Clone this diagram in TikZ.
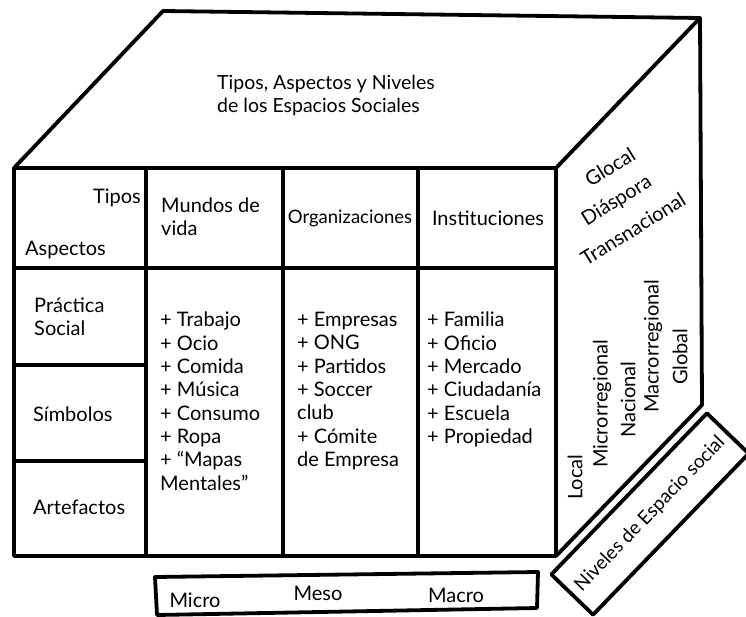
\documentclass[tikz,border=0pt]{standalone}
\usepackage{fontspec}
\setmainfont{Lato}
\begin{document}
\begin{tikzpicture}[x=1pt,y=-1pt,
  edge/.style={line width=3.8pt, line join=round, line cap=round},
  txt/.style={inner sep=0pt, font=\fontsize{20}{23.3}\selectfont},
  lst/.style={txt, align=left, anchor=north west}]
\useasboundingbox[fill=white] (0,0) rectangle (746,617);
% cube outline
\draw[edge] (14,168) -- (163,11) -- (700,18) -- (556,168);
\draw[edge] (700,18) -- (702,405) -- (556,556);
\draw[edge] (14,168) rectangle (556,556);
% front face grid
\draw[edge] (14,268) -- (556,268);
\draw[edge] (146,168) -- (146,556);
\draw[edge] (283,168) -- (283,556);
\draw[edge] (418,168) -- (418,556);
\draw[edge] (14,365) -- (146,365);
\draw[edge] (14,461) -- (146,461);
% top text
\node[txt, font=\fontsize{19.5}{23}\selectfont, align=left, anchor=west] (title) at (217,95) {Tipos, Aspectos y Niveles\\de los Espacios Sociales};
% header
\node[txt, anchor=east] (tipos) at (141,198) {Tipos};
\node[txt, anchor=west] (aspectos) at (25,250) {Aspectos};
\node[txt, align=left, anchor=west] (mundos) at (161,217) {Mundos de\\vida};
\node[txt, font=\fontsize{18.5}{23}\selectfont] (orgs) at (350,218) {Organizaciones};
\node[txt] (inst) at (488,218) {Instituciones};
% aspects
\node[txt, align=left, anchor=west] (practica) at (34,317) {Práctica\\Social};
\node[txt, anchor=west] (simbolos) at (33,414) {Símbolos};
\node[txt, anchor=west] (artefactos) at (33,507) {Artefactos};
% lists
\node[lst] (l1) at (160,312) {+ Trabajo\\+ Ocio\\+ Comida\\+ Música\\+ Consumo\\+ Ropa\\+ “Mapas\\Mentales”};
\node[lst] (l2) at (297,312) {+ Empresas\\+ ONG\\+ Partidos\\+ Soccer\\club\\+ Cómite\\de Empresa};
\node[lst] (l3) at (427,312) {+ Familia\\+ Oficio\\+ Mercado\\+ Ciudadanía\\+ Escuela\\+ Propiedad};
% right face
\node[txt, rotate=32] (glocal) at (610,167) {Glocal};
\node[txt, rotate=32] (diaspora) at (617,201) {Diáspora};
\node[txt, rotate=32] (trans) at (633,229) {Transnacional};
\node[txt, rotate=90, anchor=west] (local) at (575,500) {Local};
\node[txt, rotate=90, anchor=west] (micror) at (602,468) {Microrregional};
\node[txt, rotate=90, anchor=west] (nac) at (628,438) {Nacional};
\node[txt, rotate=90, anchor=west] (macror) at (653,413) {Macrorregional};
\node[txt, rotate=90, anchor=west] (global) at (680,385) {Global};
% niveles box
\draw[edge, rotate around={46:(650,514)}] (538,485) rectangle (762,543);
\node[txt, font=\fontsize{19}{23}\selectfont, rotate=46] (niveles) at (650,514) {Niveles de Espacio social};
% micro meso macro box
\draw[edge] (155,577) -- (538,572) -- (537,608) -- (157,615) -- cycle;
\node[txt] (micro) at (195,600) {Micro};
\node[txt] (meso) at (318,593) {Meso};
\node[txt] (macro) at (456,595) {Macro};
\end{tikzpicture}
\end{document}
